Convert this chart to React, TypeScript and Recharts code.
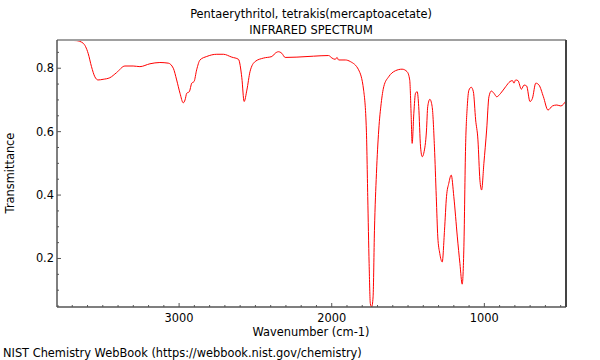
import React from "react";
import { LineChart, Line, XAxis, YAxis } from "recharts";

const wavenumbers = [
  3800, 3673, 3629, 3596, 3574, 3552, 3531, 3498, 3454, 3410, 3355, 3301, 3257, 3191, 3126, 3071,
  3038, 3016, 2994, 2973, 2961, 2950, 2933, 2917, 2902, 2885, 2863, 2819, 2753, 2710, 2655, 2611,
  2589, 2574, 2556, 2535, 2502, 2447, 2392, 2371, 2349, 2327, 2305, 2228, 2119, 2021, 1998, 1977,
  1965, 1955, 1911, 1878, 1824, 1791, 1773, 1764, 1755, 1747, 1738, 1729, 1720, 1707, 1692, 1676,
  1659, 1627, 1583, 1539, 1506, 1489, 1480, 1473, 1462, 1451, 1440, 1430, 1418, 1407, 1397, 1379,
  1371, 1357, 1342, 1327, 1315, 1305, 1292, 1276, 1261, 1248, 1233, 1217, 1200, 1177, 1160, 1145,
  1134, 1123, 1112, 1101, 1086, 1072, 1057, 1042, 1029, 1018, 1003, 985, 970, 954, 937, 919, 893,
  860, 832, 816, 806, 795, 780, 757, 740, 723, 701, 685, 663, 642, 613, 583, 554, 525, 499, 466,
];

const transmittance = [
  0.889, 0.887, 0.879, 0.847, 0.805, 0.773, 0.763, 0.765, 0.77, 0.786, 0.807, 0.807, 0.805, 0.814, 0.818, 0.816,
  0.8, 0.763, 0.721, 0.691, 0.7, 0.721, 0.726, 0.753, 0.758, 0.795, 0.826, 0.837, 0.844, 0.844, 0.835, 0.828,
  0.77, 0.695, 0.731, 0.79, 0.821, 0.832, 0.837, 0.847, 0.852, 0.847, 0.834, 0.835, 0.838, 0.84, 0.832, 0.828,
  0.834, 0.826, 0.826, 0.821, 0.795, 0.731, 0.605, 0.395, 0.184, 0.058, 0.047, 0.079, 0.289, 0.468, 0.605, 0.689,
  0.742, 0.773, 0.792, 0.797, 0.789, 0.763, 0.658, 0.563, 0.658, 0.721, 0.726, 0.679, 0.552, 0.521, 0.532, 0.605,
  0.679, 0.702, 0.679, 0.552, 0.395, 0.268, 0.216, 0.189, 0.289, 0.395, 0.437, 0.463, 0.395, 0.268, 0.184, 0.119,
  0.237, 0.552, 0.679, 0.731, 0.74, 0.726, 0.637, 0.574, 0.447, 0.416, 0.5, 0.605, 0.71, 0.728, 0.721, 0.71, 0.721,
  0.742, 0.758, 0.761, 0.753, 0.763, 0.761, 0.734, 0.747, 0.744, 0.695, 0.705, 0.753, 0.747, 0.71, 0.668, 0.681, 0.684, 0.681, 0.697,
];

const xTicks = [
  500, 600, 700, 800, 900, 1000, 1100, 1200, 1300, 1400, 1500, 1600, 1700, 1800, 1900, 2000, 2100,
  2200, 2300, 2400, 2500, 2600, 2700, 2800, 2900, 3000, 3100, 3200, 3300, 3400, 3500, 3600, 3700,
];
const xLabels = [1000, 2000, 3000];
const yTicks = [0.05, 0.1, 0.15, 0.2, 0.25, 0.3, 0.35, 0.4, 0.45, 0.5, 0.55, 0.6, 0.65, 0.7, 0.75, 0.8, 0.85];
const yLabels = [0.2, 0.4, 0.6, 0.8];

const data = wavenumbers.map((w, i) => ({ w, t: transmittance[i] }));

const FONT = "'DejaVu Sans', sans-serif";
const AXIS = "#555555";

const XTick = (props: any) => {
  const { x, y, payload } = props;
  const major = xLabels.includes(payload.value);
  return (
    <g>
      <line x1={x} x2={x} y1={y} y2={y - (major ? 4 : 2)} stroke={AXIS} strokeWidth={1} />
      {major && (
        <text x={x} y={y + 15} textAnchor="middle" fontFamily={FONT} fontSize={11.4} fill="#000">
          {payload.value}
        </text>
      )}
    </g>
  );
};

const YTick = (props: any) => {
  const { x, y, payload } = props;
  const v = Math.round(payload.value * 100) / 100;
  const major = yLabels.includes(v);
  return (
    <g>
      <line x1={x} x2={x + (major ? 4 : 2)} y1={y} y2={y} stroke={AXIS} strokeWidth={1} />
      {major && (
        <text x={x - 3} y={y + 4} textAnchor="end" fontFamily={FONT} fontSize={11.4} fill="#000">
          {v.toFixed(1)}
        </text>
      )}
    </g>
  );
};

const textStyle: React.CSSProperties = {
  position: "absolute",
  fontFamily: FONT,
  fontSize: 11.4,
  color: "#000",
  whiteSpace: "nowrap",
  lineHeight: "14px",
};

export default function App() {
  return (
    <div style={{ position: "absolute", left: 0, top: 0, width: 600, height: 360, background: "#fff" }}>
      <LineChart width={600} height={360} data={data} margin={{ top: 39, right: 33, bottom: 52, left: 56 }}>
        <XAxis
          dataKey="w"
          type="number"
          domain={[465, 3800]}
          reversed
          ticks={xTicks}
          interval={0}
          tickSize={0}
          tickMargin={0}
          height={1}
          tick={<XTick />}
          axisLine={{ stroke: AXIS, strokeWidth: 1.5 }}
          tickLine={false}
          allowDataOverflow
        />
        <XAxis
          xAxisId="top"
          orientation="top"
          dataKey="w"
          type="number"
          domain={[465, 3800]}
          reversed
          height={1}
          tick={false}
          tickLine={false}
          axisLine={{ stroke: "#a0a0a0", strokeWidth: 2 }}
        />
        <YAxis
          type="number"
          domain={[0.047, 0.889]}
          ticks={yTicks}
          interval={0}
          tickSize={0}
          tickMargin={0}
          width={1}
          tick={<YTick />}
          axisLine={{ stroke: AXIS, strokeWidth: 1.5 }}
          tickLine={false}
          allowDataOverflow
        />
        <YAxis
          yAxisId="right"
          orientation="right"
          type="number"
          domain={[0.047, 0.889]}
          width={1}
          tick={false}
          tickLine={false}
          axisLine={{ stroke: "#444444", strokeWidth: 2 }}
        />
        <Line
          dataKey="t"
          type="monotone"
          stroke="#ff0000"
          strokeWidth={1}
          dot={false}
          isAnimationActive={false}
        />
      </LineChart>
      <div style={{ ...textStyle, left: 311, top: 7, transform: "translateX(-50%)" }}>
        Pentaerythritol, tetrakis(mercaptoacetate)
      </div>
      <div style={{ ...textStyle, left: 311, top: 23, transform: "translateX(-50%)" }}>INFRARED SPECTRUM</div>
      <div style={{ ...textStyle, left: 311, top: 325, transform: "translateX(-50%)" }}>Wavenumber (cm-1)</div>
      <div style={{ ...textStyle, left: 3, top: 346 }}>NIST Chemistry WebBook (https://webbook.nist.gov/chemistry)</div>
      <div
        style={{
          ...textStyle,
          left: 10,
          top: 173,
          transform: "translate(-50%, -50%) rotate(-90deg)",
        }}
      >
        Transmittance
      </div>
    </div>
  );
}
